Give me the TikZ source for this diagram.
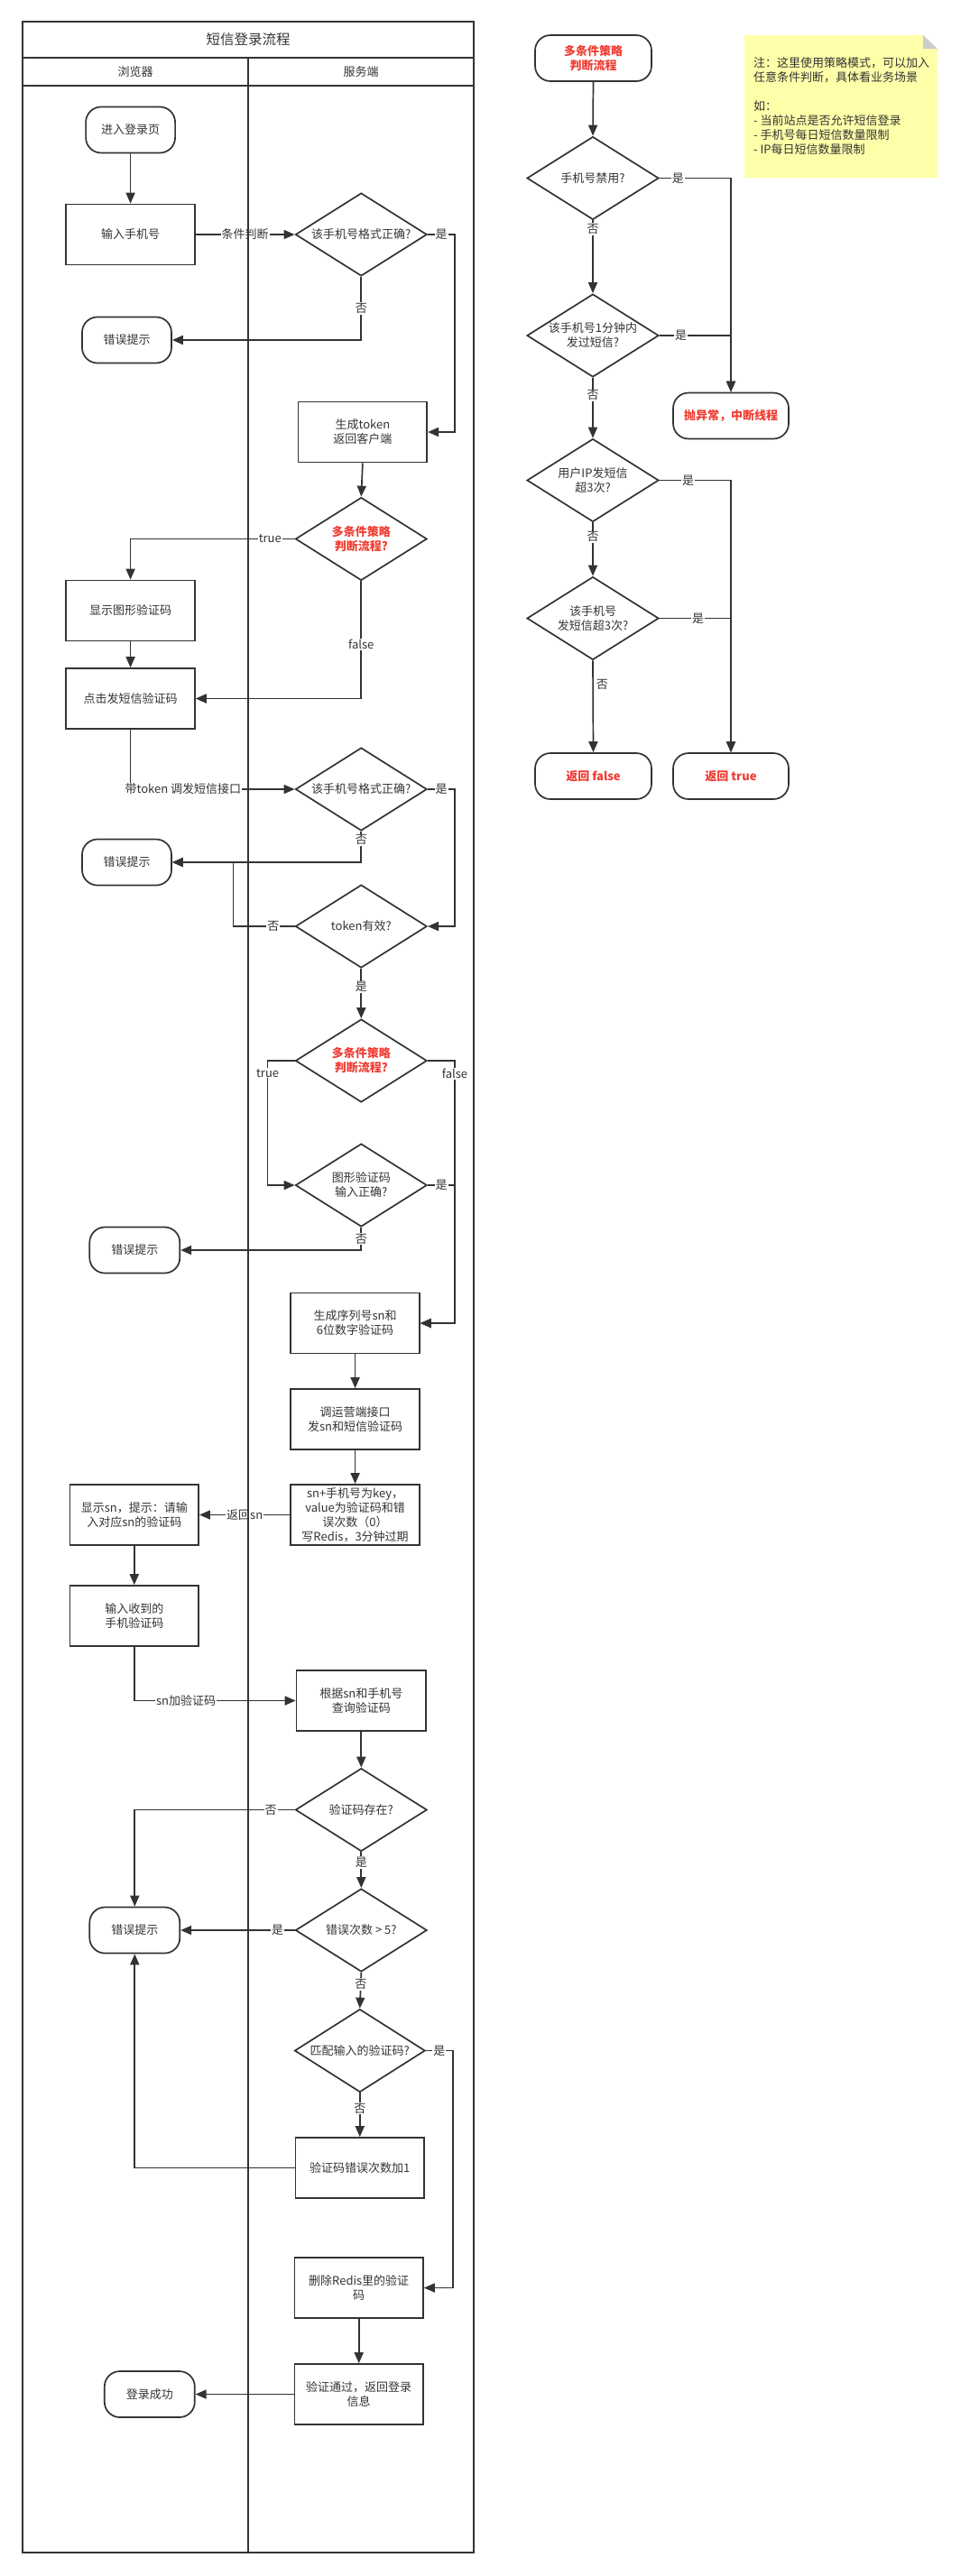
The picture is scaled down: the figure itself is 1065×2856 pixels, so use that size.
\documentclass[tikz,border=0pt]{standalone}
\usepackage{fontspec}
\newfontfamily\cjk{Noto Sans CJK SC}
\usetikzlibrary{shapes.geometric,arrows.meta}
\definecolor{ln}{HTML}{333333}
\definecolor{redt}{HTML}{F03C32}
\definecolor{notey}{HTML}{FFFFAA}
\definecolor{foldg}{HTML}{CCCCCC}
\begin{document}
\begin{tikzpicture}[x=1pt,y=-1pt,
  every node/.style={font=\cjk\fontsize{13}{16}\selectfont, text=ln},
  box/.style={draw=ln, line width=1.7pt, rectangle, minimum width=142.6pt, minimum height=67pt, align=center, inner sep=2pt},
  term/.style={draw=ln, line width=1.7pt, rectangle, rounded corners=17pt, minimum width=99pt, minimum height=51pt, align=center},
  wterm/.style={term, minimum width=129pt},
  dia/.style={draw=ln, line width=1.7pt, diamond, minimum width=145.7pt, minimum height=92pt, inner sep=0pt},
  wdia/.style={dia, minimum width=146pt},
  dtxt/.style={align=center},
  redtxt/.style={align=center, text=redt, font=\cjk\bfseries\fontsize{13}{16}\selectfont},
  arr/.style={draw=ln, line width=1.7pt, -{Triangle[length=12pt,width=10pt]}},
  con/.style={draw=ln, line width=1.7pt},
  lbl/.style={fill=white, inner sep=1pt},
]
\useasboundingbox (0,0) rectangle (1065,2856);

% ---------- left flow ----------
\node[term] (n1) at (144.6,144) {进入登录页};
\node[box] (n2) at (144.6,260) {输入手机号};
\node[dia, label={[dtxt]center:该手机号格式正确?}] (d1) at (400.3,260) {};
\node[term] (e1) at (140.5,377) {错误提示};
\node[box] (n3) at (401.9,479) {生成token\\返回客户端};
\node[dia, label={[redtxt]center:多条件策略\\判断流程?}] (d2) at (400.3,597.5) {};
\node[box] (n4) at (144.6,677) {显示图形验证码};
\node[box] (n5) at (144.6,774.5) {点击发短信验证码};
\node[dia, label={[dtxt]center:该手机号格式正确?}] (d3) at (400.3,875) {};
\node[term] (e2) at (140.5,956) {错误提示};
\node[dia, label={[dtxt]center:token有效?}] (d4) at (400.3,1027) {};
\node[dia, label={[redtxt]center:多条件策略\\判断流程?}] (d5) at (400.3,1176) {};
\node[dia, label={[dtxt]center:图形验证码\\输入正确?}] (d6) at (400.3,1314) {};
\node[term, minimum width=100pt] (e3) at (149.3,1386) {错误提示};
\node[box] (n6) at (393.6,1467) {生成序列号sn和\\6位数字验证码};
\node[box] (n7) at (393.6,1573.5) {调运营端接口\\发sn和短信验证码};
\node[box] (n8) at (393.6,1679.5) {sn+手机号为key，\\value为验证码和错\\误次数（0）\\写Redis，3分钟过期};
\node[box] (n9) at (148.8,1679.5) {显示sn，提示：请输\\入对应sn的验证码};
\node[box] (n10) at (148.8,1791.5) {输入收到的\\手机验证码};
\node[box, minimum width=143.6pt] (n11) at (400.3,1885.5) {根据sn和手机号\\查询验证码};
\node[dia, label={[dtxt]center:验证码存在?}] (d7) at (400.3,2006.5) {};
\node[dia, label={[dtxt]center:错误次数 > 5?}] (d8) at (400.3,2140) {};
\node[term, minimum width=100pt] (e4) at (149.3,2140) {错误提示};
\node[dia, minimum width=144.6pt, label={[dtxt]center:匹配输入的验证码?}] (d9) at (398.8,2273.5) {};
\node[box] (n12) at (398.8,2403.5) {验证码错误次数加1};
\node[box] (n13) at (397.7,2536.5) {删除Redis里的验证\\码};
\node[box] (n14) at (397.7,2654.5) {验证通过，返回登录\\信息};
\node[term, minimum width=100pt] (e5) at (165.8,2654.5) {登录成功};

% ---------- left connectors ----------
\draw[arr] (n1.south) -- (n2.north);
\draw[arr] (n2.east) -- node[lbl]{条件判断} (d1.west);
\draw[arr] (d1.east) -- node[lbl]{是} ++(30,0) |- (n3.east);
\draw[arr] (d1.south) |- node[lbl,pos=0.25]{否} (e1.east);
\draw[arr] (n3.south) -- (d2.north);
\draw[arr] (d2.west) -| node[lbl,pos=0.075]{true} (n4.north);
\draw[arr] (d2.south) |- node[lbl,pos=0.27]{false} (n5.east);
\draw[arr] (n4.south) -- (n5.north);
\draw[arr] (n5.south) |- node[lbl,pos=0.66]{带token 调发短信接口} (d3.west);
\draw[arr] (d3.east) -- node[lbl]{是} ++(30,0) |- (d4.east);
\draw[arr] (d3.south) |- node[lbl,pos=0.14]{否} (e2.east);
\draw[arr] (d4.west) -- node[lbl,pos=0.35]{否} ++(-68,0) |- (e2.east);
\draw[arr] (d4.south) -- node[lbl,pos=0.37]{是} (d5.north);
\draw[arr] (d5.west) -- ++(-30,0) |- node[lbl,pos=0.05]{true} (d6.west);
\draw[arr] (d5.east) -- ++(30,0) |- node[lbl,pos=0.025]{false} (n6.east);
\draw[arr] (d6.east) -- node[lbl]{是} ++(30,0) |- (n6.east);
\draw[arr] (d6.south) |- node[lbl,pos=0.25]{否} (e3.east);
\draw[arr] (n6.south) -- (n7.north);
\draw[arr] (n7.south) -- (n8.north);
\draw[arr] (n8.west) -- node[lbl]{返回sn} (n9.east);
\draw[arr] (n9.south) -- (n10.north);
\draw[arr] (n10.south) |- node[lbl,pos=0.66]{sn加验证码} (n11.west);
\draw[arr] (n11.south) -- (d7.north);
\draw[arr] (d7.west) -| node[lbl,pos=0.075]{否} (e4.north);
\draw[arr] (d7.south) -- node[lbl,pos=0.29]{是} (d8.north);
\draw[arr] (d8.west) -- node[lbl,pos=0.15]{是} (e4.east);
\draw[arr] (d8.south) -- node[lbl,pos=0.33]{否} (d9.north);
\draw[arr] (d9.east) -- node[lbl]{是} ++(30,0) |- (n13.east);
\draw[arr] (d9.south) -- node[lbl,pos=0.35]{否} (n12.north);
\draw[arr] (n12.west) -| (e4.south);
\draw[arr] (n13.south) -- (n14.north);
\draw[arr] (n14.west) -- (e5.east);

% ---------- pool ----------
\draw[con] (25,24) rectangle (525,2830);
\draw[con] (25,64) -- (525,64);
\draw[con] (25,95) -- (525,95);
\draw[con] (275,64) -- (275,2830);
\node[font=\cjk\fontsize{15.5}{18}\selectfont] (title) at (275,44) {短信登录流程};
\node (lane1) at (150,80) {浏览器};
\node (lane2) at (400,80) {服务端};

% ---------- right flow ----------
\node[wterm, label={[redtxt]center:多条件策略\\判断流程}] (r0) at (657.5,64.5) {};
\node[wdia, label={[dtxt]center:手机号禁用?}] (rd1) at (657,197.5) {};
\node[wdia, label={[dtxt]center:该手机号1分钟内\\发过短信?}] (rd2) at (657,372) {};
\node[wterm, minimum width=128pt, label={[redtxt]center:抛异常，中断线程}] (rt) at (810,461) {};
\node[wdia, label={[dtxt]center:用户IP发短信\\超3次?}] (rd3) at (657,532.5) {};
\node[wdia, label={[dtxt]center:该手机号\\发短信超3次?}] (rd4) at (657,685.5) {};
\node[wterm, label={[redtxt]center:返回 false}] (rf) at (657.5,860.5) {};
\node[wterm, minimum width=128pt, label={[redtxt]center:返回 true}] (rtr) at (810,860.5) {};

\draw[arr] (r0.south) -- (rd1.north);
\draw[arr] (rd1.east) -| node[lbl,pos=0.13]{是} (rt.north);
\draw[arr] (rd2.east) -| node[lbl,pos=0.15]{是} (rt.north);
\draw[arr] (rd3.east) -| node[lbl,pos=0.2]{是} (rtr.north);
\draw[arr] (rd4.east) -| node[lbl,pos=0.27]{是} (rtr.north);
\draw[arr] (rd1.south) -- node[lbl,pos=0.12]{否} (rd2.north);
\draw[arr] (rd2.south) -- node[lbl,pos=0.29]{否} (rd3.north);
\draw[arr] (rd3.south) -- node[lbl,pos=0.27]{否} (rd4.north);
\draw[arr] (rd4.south) -- node[lbl,pos=0.26,anchor=west,xshift=2pt]{否} (rf.north);

% ---------- note ----------
\fill[notey] (825,39) -- (1023,39) -- (1039,54) -- (1039,197) -- (825,197) -- cycle;
\fill[foldg] (1023,39) -- (1023,54) -- (1039,54) -- cycle;
\node[anchor=north west, align=left, inner sep=0pt, font=\cjk\fontsize{13}{16}\selectfont] (note) at (835,63)
  {注：这里使用策略模式，可以加入\\任意条件判断，具体看业务场景\\[16pt]如：\\- 当前站点是否允许短信登录\\- 手机号每日短信数量限制\\- IP每日短信数量限制};
\end{tikzpicture}
\end{document}
